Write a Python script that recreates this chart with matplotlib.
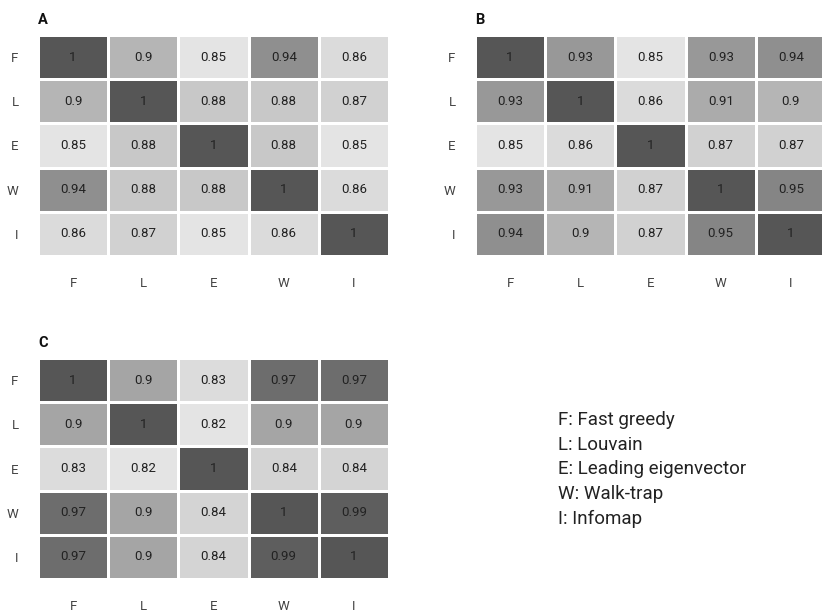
import numpy as np
import matplotlib.pyplot as plt
from matplotlib.colors import LinearSegmentedColormap

plt.rcParams['font.family'] = ['Roboto', 'DejaVu Sans']

methods = ["F", "L", "E", "W", "I"]
legend_lines = ["F: Fast greedy", "L: Louvain", "E: Leading eigenvector",
                "W: Walk-trap", "I: Infomap"]

sim_A = [[1, 0.9, 0.85, 0.94, 0.86],
         [0.9, 1, 0.88, 0.88, 0.87],
         [0.85, 0.88, 1, 0.88, 0.85],
         [0.94, 0.88, 0.88, 1, 0.86],
         [0.86, 0.87, 0.85, 0.86, 1]]

sim_B = [[1, 0.93, 0.85, 0.93, 0.94],
         [0.93, 1, 0.86, 0.91, 0.9],
         [0.85, 0.86, 1, 0.87, 0.87],
         [0.93, 0.91, 0.87, 1, 0.95],
         [0.94, 0.9, 0.87, 0.95, 1]]

sim_C = [[1, 0.9, 0.83, 0.97, 0.97],
         [0.9, 1, 0.82, 0.9, 0.9],
         [0.83, 0.82, 1, 0.84, 0.84],
         [0.97, 0.9, 0.84, 1, 0.99],
         [0.97, 0.9, 0.84, 0.99, 1]]

greys = LinearSegmentedColormap.from_list("greys", ["#e4e4e4", "#565656"])

fig = plt.figure(figsize=(8.22, 6.13), dpi=100)

W, H = 822, 613
def place(x0, y0, w, h):
    return [x0 / W, 1 - (y0 + h) / H, w / W, h / H]

panels = [("A", sim_A, place(38, 35, 351, 221)),
          ("B", sim_B, place(475, 35, 351, 221)),
          ("C", sim_C, place(38, 358, 351, 221))]

for name, mat, rect in panels:
    m = np.array(mat)
    ax = fig.add_axes(rect)
    ax.pcolormesh(m, cmap=greys, vmin=m.min(), vmax=m.max(),
                  edgecolor="white", linewidth=2)
    ax.set_xlim(0, 5)
    ax.set_ylim(5, 0)
    for i in range(5):
        for j in range(5):
            ax.text(j + 0.5, i + 0.5, f"{m[i, j]:g}", ha="center", va="center",
                    fontsize=9.5, color="#222222")
    ax.set_xticks(np.arange(5) + 0.5, methods)
    ax.set_yticks(np.arange(5) + 0.5, methods)
    ax.tick_params(length=0, labelsize=9.5, labelcolor="#444444")
    ax.tick_params(axis="x", pad=15)
    ax.tick_params(axis="y", pad=14)
    for s in ax.spines.values():
        s.set_visible(False)
    ax.text(0, 1.035, name, transform=ax.transAxes, ha="left", va="bottom",
            fontsize=10.5, fontweight="bold", color="#111111")

for k, line in enumerate(legend_lines):
    fig.text(558 / W, 1 - (420 + 24.7 * k) / H, line, ha="left", va="center",
             fontsize=13.5, color="#222222")

fig.savefig("out.png", dpi=100)
